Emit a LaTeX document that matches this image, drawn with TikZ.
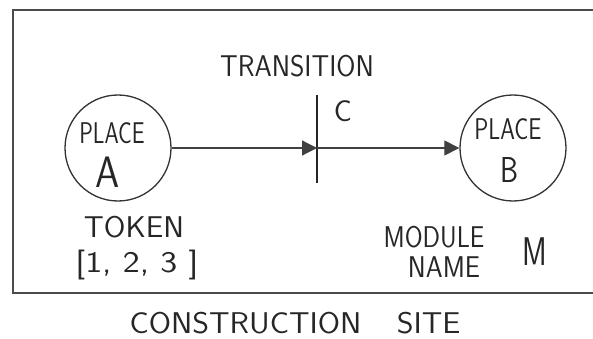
\documentclass[tikz,border=0pt]{standalone}
\usetikzlibrary{arrows.meta}

\begin{document}
\begin{tikzpicture}[x=1pt,y=-1pt,
	hand/.style={font=\sffamily\fontsize{30}{30}\selectfont, text=black!85, inner sep=0pt},
	place/.style={circle, draw=black!80, line width=1.3pt, minimum size=106pt, inner sep=0pt},
	arc/.style={line width=1.2pt, draw=black!75, -{Triangle[length=15pt,width=15pt]}}]
%
	\useasboundingbox (0,0) rectangle (593,339);
	\draw[line width=1.6pt, black!70] (600,10) -- (13,10) -- (13,293) -- (600,293);
%
	\node[place] (placeA) at (118,148) {};
	\node[place] (placeB) at (513,148) {};
	\node[fill=black!85, minimum width=2pt, minimum height=88pt, inner sep=0pt] (trans) at (317,139) {};
%
	\draw[arc] (placeA.east) -- (placeA.east -| trans.center);
	\draw[arc] (trans.center |- placeB.west) -- (placeB.west);
%
	\node[hand, xscale=0.92] (transLabel) at (297,66) {TRANSITION};
	\node[hand] (transName) at (343,111) {C};
	\node[hand, xscale=0.76] (placeALabel) at (112,133) {PLACE};
	\node[hand, font=\sffamily\fontsize{44}{44}\selectfont, xscale=0.88] (placeAName) at (108,172) {A};
	\node[hand, xscale=0.78] (placeBLabel) at (508,129) {PLACE};
	\node[hand, font=\sffamily\fontsize{36}{36}\selectfont, xscale=0.8] (placeBName) at (510,170) {B};
	\node[hand, xscale=1.04] (token) at (134,227) {TOKEN};
	\node[hand, xscale=1.2] (tokenValue) at (137,265) {[1,\ 2,\ 3\ ]};
	\node[hand, xscale=0.86] (module) at (434,237) {MODULE};
	\node[hand, xscale=0.9] (moduleName) at (444,267) {NAME};
	\node[hand, font=\sffamily\fontsize{40}{40}\selectfont, xscale=0.75] (moduleM) at (535,252) {M};
	\node[hand, xscale=1.07] (site) at (295,323) {CONSTRUCTION\hspace{1.1em}SITE};
%
\end{tikzpicture}
\end{document}
